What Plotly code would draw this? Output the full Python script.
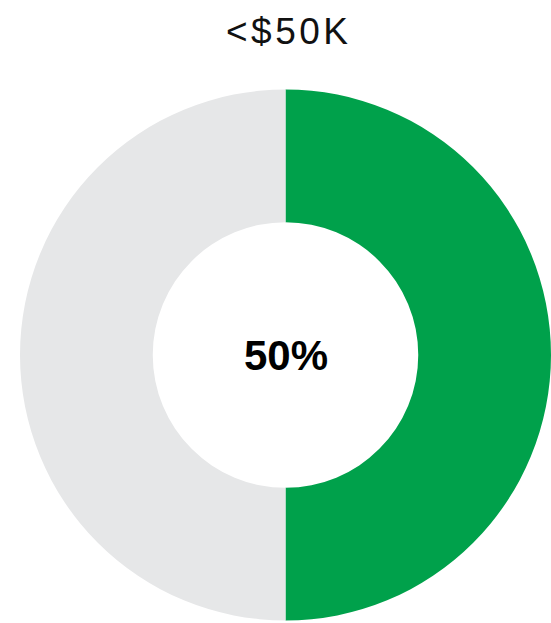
import plotly.graph_objects as go

# Share of respondents in the income bracket
bracket = "<$50K"
labels = [bracket, "Other"]
values = [50, 50]
colors = ["#00A14B", "#E6E7E8"]

W, H = 551, 623

share = round(100 * values[0] / sum(values))

fig = go.Figure(
    go.Pie(
        labels=labels,
        values=values,
        hole=0.5,
        sort=False,
        direction="clockwise",
        rotation=0,
        marker=dict(colors=colors, line=dict(width=0)),
        textinfo="none",
        hoverinfo="label+percent",
        domain=dict(x=[20 / W, 1.0], y=[2.5 / H, 533.5 / H]),
        showlegend=False,
    )
)

fig.add_annotation(
    text=f"<b>{share}%</b>",
    x=285.5 / W, y=268 / H, xref="paper", yref="paper",
    xanchor="center", yanchor="middle", showarrow=False,
    font=dict(family="Liberation Sans, Arial, sans-serif", size=42, color="#000000"),
)

title_text = bracket.replace("<", "&lt;")
fig.add_annotation(
    text=f'<span style="letter-spacing:3.5px">{title_text}</span>',
    x=289 / W, y=1 - 32 / H, xref="paper", yref="paper",
    xanchor="center", yanchor="middle", showarrow=False,
    font=dict(family="Liberation Sans, Arial, sans-serif", size=37, color="#111111"),
)

fig.update_layout(
    width=W, height=H,
    margin=dict(l=0, r=0, t=0, b=0),
    paper_bgcolor="#FFFFFF",
    plot_bgcolor="#FFFFFF",
)

fig.write_html("out.html")
